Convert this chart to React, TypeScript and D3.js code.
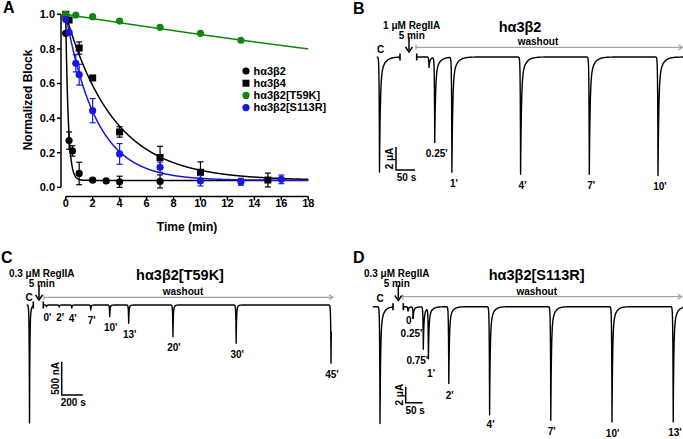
import React from 'react';
import * as d3 from 'd3';

const W = 683;
const H = 439;
const FONT = "'Liberation Sans', Arial, Helvetica, sans-serif";
const GREEN = '#0f870f';
const BLUE = '#1717e0';
const GRAY = '#a3a3a3';

// ---------- Panel A: washout of block ----------
const a32Time = [0, 0.25, 0.5, 1, 2, 3, 4, 7];
const a32Block = [0.89, 0.27, 0.21, 0.08, 0.042, 0.037, 0.032, 0.034];
const a32Err = [0, 0.05, 0.03, 0.065, 0.01, 0.01, 0.032, 0.038];

const a34Time = [0, 0.25, 1, 2, 4, 7, 10, 15];
const a34Block = [1.0, 0.967, 0.805, 0.632, 0.32, 0.172, 0.087, 0.042];
const a34Err = [0, 0, 0.035, 0.01, 0.03, 0.065, 0.06, 0.04];

const t59kTime = [0, 0.75, 2, 4, 7, 10, 13];
const t59kBlock = [1.0, 0.996, 0.986, 0.961, 0.925, 0.89, 0.85];
const t59kErr = [0, 0, 0, 0, 0, 0, 0];

const s113rTime = [0, 0.25, 0.75, 1, 2, 4, 7, 10, 13, 16];
const s113rBlock = [0.97, 0.895, 0.717, 0.651, 0.443, 0.193, 0.116, 0.038, 0.032, 0.046];
const s113rErr = [0, 0.01, 0.05, 0.06, 0.07, 0.06, 0.03, 0.03, 0.02, 0.025];

// one-phase decay fits: Y = plateau + (1 - plateau) * exp(-k t)
const fitK = [5.2, 0.28, 0.0124, 0.44];
const fitPlateau = [0.04, 0.04, 0, 0.04];

const seriesNames = ['hα3β2', 'hα3β4', 'hα3β2[T59K]', 'hα3β2[S113R]'];
const seriesColors = ['#000', '#000', GREEN, BLUE];
const seriesShapes = ['circle', 'square', 'circle', 'circle'];
const seriesTime = [a32Time, a34Time, t59kTime, s113rTime];
const seriesBlock = [a32Block, a34Block, t59kBlock, s113rBlock];
const seriesErr = [a32Err, a34Err, t59kErr, s113rErr];

const xTickValues = [0, 2, 4, 6, 8, 10, 12, 14, 16, 18];
const yTickValues = [0, 0.2, 0.4, 0.6, 0.8, 1.0];

// ---------- Panel B: hα3β2, 1 µM RegIIA (µA) ----------
const bControl = 10.0;
const bTimes = [0, 0.25, 1, 4, 7, 10];
const bAmps = [0.9, 7.4, 10.0, 10.2, 10.2, 10.3];
const bLabels = ['', "0.25'", "1'", "4'", "7'", "10'"];

// ---------- Panel C: hα3β2[T59K], 0.3 µM RegIIA (nA) ----------
const cControl = 1770;
const cTimes = [0, 2, 4, 7, 10, 13, 20, 30, 45];
const cAmps = [25, 30, 45, 75, 175, 275, 475, 575, 875];
const cLabels = ["0'", "2'", "4'", "7'", "10'", "13'", "20'", "30'", "45'"];

// ---------- Panel D: hα3β2[S113R], 0.3 µM RegIIA (µA) ----------
const dControl = 14.6;
const dTimes = [0, 0.25, 0.75, 1, 2, 4, 7, 10, 13];
const dAmps = [0.55, 1.45, 5.3, 6.3, 9.6, 13.5, 14.2, 14.4, 14.4];
const dLabels = ["0'", "0.25'", "0.75'", "1'", "2'", "4'", "7'", "10'", "13'"];
// label nudges (px) so the crowded early labels sit as in the figure
const dLabelDx = [2, -1.6, -6, 2.7, 1, 1, 1, 0.6, 1.7];
const dLabelDy = [12.5, 18.5, 14.5, 19.5, 15, 13.5, 15, 15, 14.5];

type Shape = { rise: number; tauF: number; tauS: number; fast: number };

const pulse = (dx: number, s: Shape) => {
  if (dx < 0) return Math.exp(dx / s.rise);
  return s.fast * Math.exp(-dx / s.tauF) + (1 - s.fast) * Math.exp(-dx / s.tauS);
};

// current trace: baseline + sum of inward current pulses at the given times
function tracePath(xScale: any, yScale: any, t0: number, t1: number, times: number[], amps: number[], s: Shape) {
  const x0 = xScale(t0);
  const x1 = xScale(t1);
  const px = times.map(t => xScale(t));
  const xs = d3.range(x0, x1, 0.2)
    .concat(px.filter(p => p >= x0 && p <= x1), [x1])
    .sort((a, b) => a - b);
  const pts: [number, number][] = xs.map(x => [x, yScale(d3.sum(px, (p, i) => amps[i] * pulse(x - p, s)))]);
  return d3.line()(pts) || '';
}

const bold = { fontFamily: FONT, fontWeight: 700 as const };

const PanelA = () => {
  const x = d3.scaleLinear().domain([0, 18]).range([65.7, 308.3]);
  const y = d3.scaleLinear().domain([0, 1]).range([187.3, 14.3]);
  const axisX = 61;
  const axisY = 196.5;

  const fitPath = (k: number, p: number) => {
    const ts = d3.range(0, 18.001, 0.02);
    return d3.line<number>().x(t => x(t)).y(t => y(p + (1 - p) * Math.exp(-k * t)))(ts) || '';
  };

  return (
    <g>
      {/* y axis */}
      <line x1={axisX} x2={axisX} y1={y(0)} y2={y(1)} stroke="#000" strokeWidth={1.5} />
      {yTickValues.map(v => (
        <g key={v}>
          <line x1={axisX - 4} x2={axisX} y1={y(v)} y2={y(v)} stroke="#000" strokeWidth={1.5} />
          <text x={axisX - 6} y={y(v)} dy="0.35em" textAnchor="end" fontSize={11} {...bold}>{d3.format('.1f')(v)}</text>
        </g>
      ))}
      {/* x axis */}
      <line x1={x(0)} x2={x(18)} y1={axisY} y2={axisY} stroke="#000" strokeWidth={1.5} />
      {xTickValues.map(v => (
        <g key={v}>
          <line x1={x(v)} x2={x(v)} y1={axisY} y2={axisY + 4} stroke="#000" strokeWidth={1.5} />
          <text x={x(v)} y={axisY + 10} textAnchor="middle" fontSize={11} {...bold}>{v}</text>
        </g>
      ))}
      <text x={187} y={231} textAnchor="middle" fontSize={12} {...bold}>Time (min)</text>
      <text transform="translate(32,100) rotate(-90)" textAnchor="middle" fontSize={12} {...bold}>Normalized Block</text>

      {/* fits */}
      {fitK.map((k, i) => (
        <path key={i} d={fitPath(k, fitPlateau[i])} fill="none" stroke={seriesColors[i]} strokeWidth={1.5} />
      ))}

      {/* error bars and points */}
      {seriesTime.map((ts, si) => (
        <g key={si}>
          {ts.map((t, j) => {
            const e = seriesErr[si][j];
            const v = seriesBlock[si][j];
            if (!e) return null;
            return (
              <g key={j} stroke={seriesColors[si]} strokeWidth={1.2}>
                <line x1={x(t)} x2={x(t)} y1={y(v - e)} y2={y(v + e)} />
                <line x1={x(t) - 3} x2={x(t) + 3} y1={y(v - e)} y2={y(v - e)} />
                <line x1={x(t) - 3} x2={x(t) + 3} y1={y(v + e)} y2={y(v + e)} />
              </g>
            );
          })}
          {ts.map((t, j) => {
            const v = seriesBlock[si][j];
            return seriesShapes[si] === 'square'
              ? <rect key={j} x={x(t) - 3.5} y={y(v) - 3.5} width={7} height={7} fill={seriesColors[si]} />
              : <circle key={j} cx={x(t)} cy={y(v)} r={3.6} fill={seriesColors[si]} />;
          })}
        </g>
      ))}

      {/* legend */}
      {seriesNames.map((n, i) => {
        const ly = 71 + i * 12.2;
        return (
          <g key={n}>
            {seriesShapes[i] === 'square'
              ? <rect x={242.5} y={ly - 3.5} width={7} height={7} fill={seriesColors[i]} />
              : <circle cx={246} cy={ly} r={3.6} fill={seriesColors[i]} />}
            <text x={253.5} y={ly} dy="0.35em" fontSize={11} {...bold}>{n}</text>
          </g>
        );
      })}
    </g>
  );
};

type TraceProps = {
  title: string; titleX: number; titleY: number;
  drug: string; drugX: number; drugY: number;
  arrowX: number; arrowY0: number; arrowY1: number;
  washY: number; washX0: number; washX1: number; washLabelX: number; washLabelY: number;
  cX: number; cY: number;
  baseY: number; pxPerUnit: number;
  washX: [number, number]; washT: [number, number]; washWin: [number, number];
  ctrlPeakX: number; ctrlWin: [number, number];
  breakA: number; breakB: number;
  control: number; times: number[]; amps: number[]; labels: string[];
  labelDx: number | number[]; labelDy: number | number[];
  shape: Shape;
  bar: { x: number; y: number; amp: number; ampText: string; sec: number; secText: string };
};

const pick = (v: number | number[], i: number) => (Array.isArray(v) ? v[i] : v);

const TracePanel = (p: TraceProps) => {
  const pxPerMin = (p.washX[1] - p.washX[0]) / (p.washT[1] - p.washT[0]);
  const tx = d3.scaleLinear().domain(p.washT).range(p.washX);
  const cx = d3.scaleLinear().domain([0, 1]).range([p.ctrlPeakX, p.ctrlPeakX + pxPerMin]);
  const ay = d3.scaleLinear().domain([0, 1]).range([p.baseY, p.baseY + p.pxPerUnit]);
  const ctrlPath = tracePath(cx, ay, p.ctrlWin[0], p.ctrlWin[1], [0], [p.control], p.shape);
  const washPath = tracePath(tx, ay, p.washWin[0], p.washWin[1], p.times, p.amps, p.shape);
  const barV = p.bar.amp * p.pxPerUnit;
  const barW = (p.bar.sec / 60) * pxPerMin;
  const fs = 10;
  return (
    <g>
      <text x={p.drugX} y={p.drugY} textAnchor="middle" fontSize={fs} {...bold}>{p.drug}</text>
      <text x={p.drugX} y={p.drugY + 10.5} textAnchor="middle" fontSize={fs} {...bold}>5 min</text>
      <line x1={p.arrowX} x2={p.arrowX} y1={p.arrowY0} y2={p.arrowY1 - 2} stroke="#000" strokeWidth={1.5} />
      <path d={`M${p.arrowX - 3.5},${p.arrowY1 - 5} L${p.arrowX},${p.arrowY1} L${p.arrowX + 3.5},${p.arrowY1 - 5}`} fill="none" stroke="#000" strokeWidth={1.5} />
      <text x={p.titleX} y={p.titleY} textAnchor="middle" fontSize={14.5} {...bold}>{p.title}</text>
      <line x1={p.washX0} x2={p.washX1} y1={p.washY} y2={p.washY} stroke={GRAY} strokeWidth={1.3} />
      <line x1={p.washX0} x2={p.washX0} y1={p.washY - 2.5} y2={p.washY + 2.5} stroke={GRAY} strokeWidth={1.3} />
      <path d={`M${p.washX1 - 4},${p.washY - 2.5} L${p.washX1},${p.washY} L${p.washX1 - 4},${p.washY + 2.5}`} fill="none" stroke={GRAY} strokeWidth={1.2} />
      <text x={p.washLabelX} y={p.washLabelY} textAnchor="middle" fontSize={fs} {...bold}>washout</text>
      <text x={p.cX} y={p.cY} textAnchor="middle" fontSize={fs} {...bold}>C</text>

      <path d={ctrlPath} fill="none" stroke="#000" strokeWidth={1.4} strokeLinejoin="round" />
      <path d={washPath} fill="none" stroke="#000" strokeWidth={1.4} strokeLinejoin="round" />
      <line x1={p.breakA} x2={p.breakA} y1={p.baseY - 3.5} y2={p.baseY + 3.5} stroke="#000" strokeWidth={1.6} />
      <line x1={p.breakB} x2={p.breakB} y1={p.baseY - 3.5} y2={p.baseY + 3.5} stroke="#000" strokeWidth={1.6} />

      {p.labels.map((l, i) => l && (
        <text key={i} x={tx(p.times[i]) + pick(p.labelDx, i)} y={ay(p.amps[i]) + pick(p.labelDy, i)}
          textAnchor="middle" fontSize={fs} {...bold}>{l}</text>
      ))}

      {/* scale bar */}
      <path d={`M${p.bar.x},${p.bar.y - barV} L${p.bar.x},${p.bar.y} L${p.bar.x + barW},${p.bar.y}`} fill="none" stroke="#000" strokeWidth={1.5} />
      <text transform={`translate(${p.bar.x - 3},${p.bar.y - barV / 2}) rotate(-90)`} textAnchor="middle" fontSize={fs} {...bold}>{p.bar.ampText}</text>
      <text x={p.bar.x + barW / 2 + 1} y={p.bar.y + 11} textAnchor="middle" fontSize={fs} {...bold}>{p.bar.secText}</text>
    </g>
  );
};

export default function App() {
  return (
    <svg width={W} height={H} viewBox={`0 0 ${W} ${H}`} style={{ position: 'absolute', left: 0, top: 0, background: '#fff' }}>
      <rect width={W} height={H} fill="#fff" />
      <text x={3} y={13} fontSize={16} {...bold}>A</text>
      <text x={353} y={13.5} fontSize={16} {...bold}>B</text>
      <text x={1} y={263} fontSize={16} {...bold}>C</text>
      <text x={353} y={263} fontSize={16} {...bold}>D</text>

      <PanelA />

      <TracePanel
        title="hα3β2" titleX={520} titleY={32}
        drug="1 μM RegIIA" drugX={411.7} drugY={28.5}
        arrowX={409} arrowY0={37} arrowY1={52}
        washY={47.3} washX0={416} washX1={682.5} washLabelX={538} washLabelY={44.5}
        cX={380.7} cY={52.5}
        baseY={57} pxPerUnit={11.5}
        washX={[429, 658]} washT={[0, 10]} washWin={[-0.54, 11.6]}
        ctrlPeakX={379.5} ctrlWin={[-0.12, 0.9]}
        breakA={400} breakB={416.7}
        control={bControl} times={bTimes} amps={bAmps} labels={bLabels}
        labelDx={2} labelDy={15}
        shape={{ rise: 0.3, tauF: 0.8, tauS: 4, fast: 0.8 }}
        bar={{ x: 396, y: 170, amp: 2, ampText: '2 μA', sec: 50, secText: '50 s' }}
      />

      <TracePanel
        title="hα3β2[T59K]" titleX={180} titleY={280}
        drug="0.3 μM RegIIA" drugX={41.7} drugY={276.5}
        arrowX={39} arrowY0={285} arrowY1={300}
        washY={297.3} washX0={44} washX1={333} washLabelX={183} washLabelY={295}
        cX={29} cY={300.5}
        baseY={305} pxPerUnit={33.3 / 500}
        washX={[46.5, 331]} washT={[0, 45]} washWin={[-0.5, 45.05]}
        ctrlPeakX={29.5} ctrlWin={[-0.45, 0.6]}
        breakA={33.3} breakB={43.3}
        control={cControl} times={cTimes} amps={cAmps} labels={cLabels}
        labelDx={1} labelDy={14.5}
        shape={{ rise: 0.3, tauF: 0.35, tauS: 1.2, fast: 0.85 }}
        bar={{ x: 61.7, y: 395, amp: 500, ampText: '500 nA', sec: 200, secText: '200 s' }}
      />

      <TracePanel
        title="hα3β2[S113R]" titleX={536.7} titleY={280}
        drug="0.3 μM RegIIA" drugX={396.7} drugY={276.5}
        arrowX={398.3} arrowY0={285} arrowY1={300.5}
        washY={296.7} washX0={403} washX1={681.7} washLabelX={536.7} washLabelY={295}
        cX={380} cY={302}
        baseY={306.7} pxPerUnit={8}
        washX={[408, 673.2]} washT={[0, 13]} washWin={[-0.23, 14]}
        ctrlPeakX={380} ctrlWin={[-0.35, 0.65]}
        breakA={393} breakB={403.3}
        control={dControl} times={dTimes} amps={dAmps} labels={dLabels}
        labelDx={dLabelDx} labelDy={dLabelDy}
        shape={{ rise: 0.3, tauF: 0.6, tauS: 3, fast: 0.8 }}
        bar={{ x: 405.7, y: 402.7, amp: 2, ampText: '2 μA', sec: 50, secText: '50 s' }}
      />
    </svg>
  );
}
